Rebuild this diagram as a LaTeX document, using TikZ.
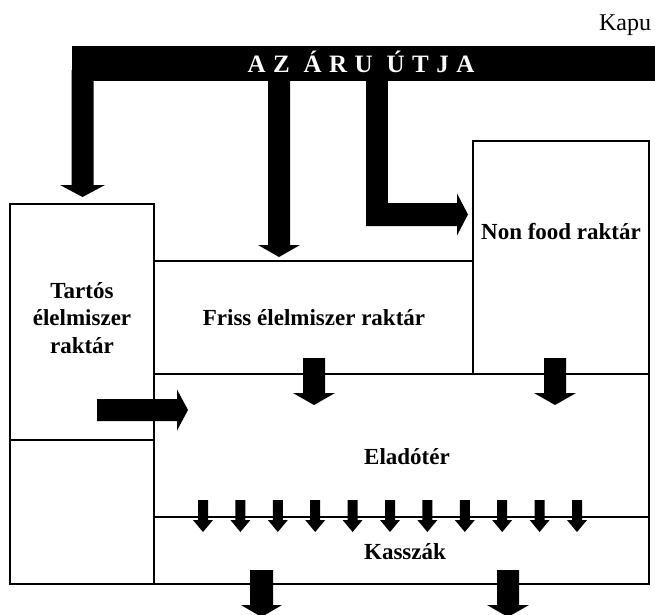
\documentclass[tikz,border=0pt]{standalone}
\usepackage{fontspec}
\setmainfont{Liberation Serif}

% lefele mutato blokknyil: x, felso y, csucs y, szar fele, fej fele
\newcommand{\lenyil}[5]{%
  \fill ({#1-#4},#2) -- ({#1+#4},#2) -- ({#1+#4},{#3-12}) -- ({#1+#5},{#3-12})
    -- (#1,#3) -- ({#1-#5},{#3-12}) -- ({#1-#4},{#3-12}) -- cycle;}
% jobbra mutato blokknyil: y, bal x, csucs x, szar fele, fej fele
\newcommand{\jobbranyil}[5]{%
  \fill (#2,{#1-#4}) -- (#2,{#1+#4}) -- ({#3-11},{#1+#4}) -- ({#3-11},{#1+#5})
    -- (#3,#1) -- ({#3-11},{#1-#5}) -- ({#3-11},{#1-#4}) -- cycle;}

\begin{document}
\begin{tikzpicture}[x=1pt,y=-1pt,
    fal/.style={line width=2.5pt},
    felirat/.style={font=\bfseries\fontsize{23}{27.5}\selectfont, align=center}]

    \useasboundingbox (0,0) rectangle (655,614);

    % Helyisegek
    \draw[fal] (10,204) rectangle (154,584);
    \draw[fal] (10,440) -- (154,440);
    \draw[fal] (154,261) -- (473,261);
    \draw[fal] (473,141) rectangle (649,374);
    \draw[fal] (154,374) rectangle (649,584);
    \draw[fal] (154,517) -- (649,517);

    % Az aru utja (felso savval)
    \fill (71.5,46) rectangle (655,81);
    \lenyil{82.5}{70}{197}{11}{22.5}
    \lenyil{279}{70}{257}{11}{21}
    \fill (366,70) rectangle (388,226);
    \jobbranyil{214.5}{366}{468}{11.5}{21}

    % Raktarakbol az eladoterbe
    \jobbranyil{410}{97}{188}{11}{20.5}
    \lenyil{314}{358}{405}{11}{21}
    \lenyil{555}{358}{405}{11}{21}

    % Kasszak
    \foreach \i in {0,...,10} {
        \lenyil{203+37.4*\i}{500}{532}{5}{10}
    }
    \lenyil{261.5}{570}{617}{11.5}{20.5}
    \lenyil{508}{570}{617}{11}{21}

    % Feliratok
    \node[font=\fontsize{24}{28}\selectfont] (kapu) at (625,25) {Kapu};
    \node[text=white, anchor=base, inner sep=0pt,
          font=\bfseries\fontsize{25}{29}\selectfont\addfontfeature{LetterSpace=30}]
        (utja) at (361,72) {AZ ÁRU ÚTJA};
    \node[felirat] (tartos) at (82,318) {Tartós\\élelmiszer\\raktár};
    \node[felirat] (friss) at (314,318) {Friss élelmiszer raktár};
    \node[felirat] (nonfood) at (561,232) {Non food raktár};
    \node[felirat] (elado) at (407,457) {Eladótér};
    \node[felirat] (kassza) at (405,552) {Kasszák};

\end{tikzpicture}
\end{document}
